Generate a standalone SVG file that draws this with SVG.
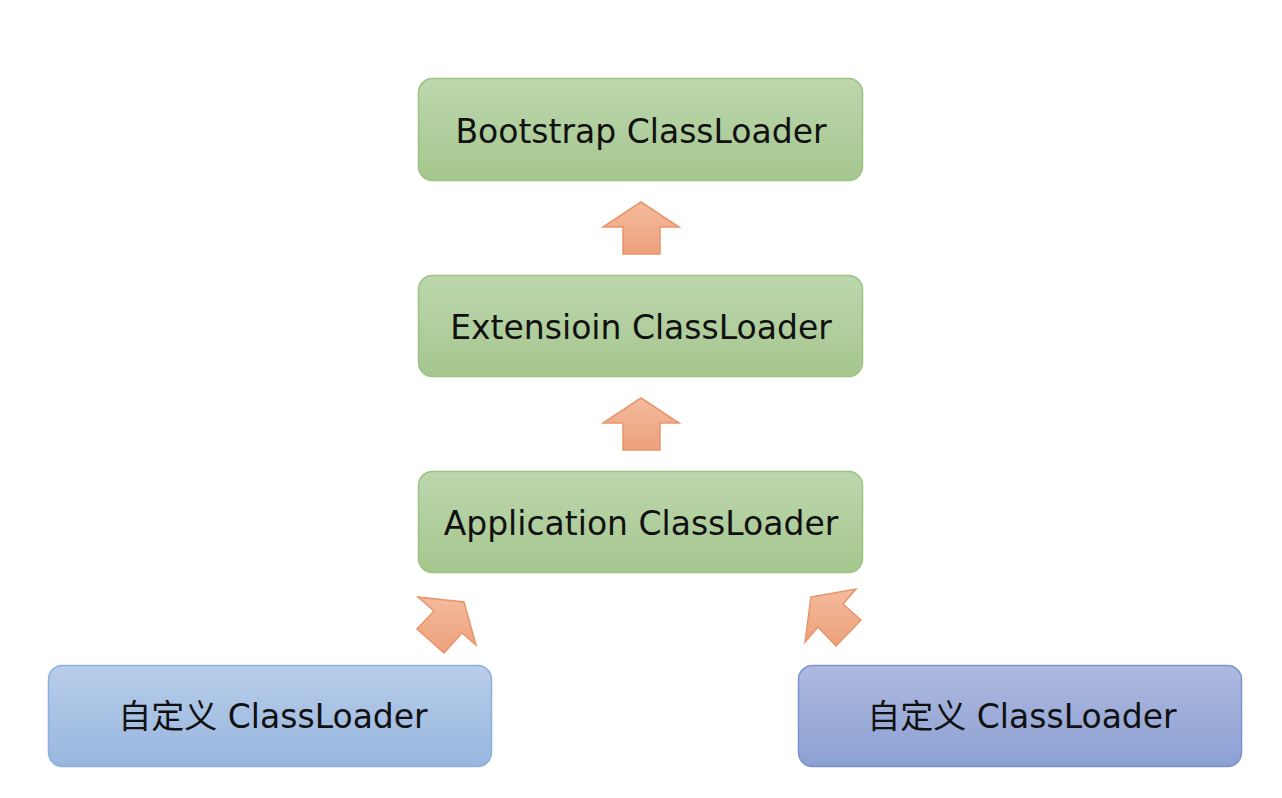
<svg xmlns="http://www.w3.org/2000/svg" width="1282" height="798" viewBox="0 0 1282 798">
  <defs>
    <linearGradient id="gGreen" x1="0" y1="0" x2="0" y2="1">
      <stop offset="0" stop-color="#bdd7ae"/>
      <stop offset="1" stop-color="#a5c68e"/>
    </linearGradient>
    <linearGradient id="gBlueL" x1="0" y1="0" x2="0" y2="1">
      <stop offset="0" stop-color="#b8cde9"/>
      <stop offset="1" stop-color="#98b6df"/>
    </linearGradient>
    <linearGradient id="gBlueR" x1="0" y1="0" x2="0" y2="1">
      <stop offset="0" stop-color="#aeb9de"/>
      <stop offset="1" stop-color="#8da1d4"/>
    </linearGradient>
    <linearGradient id="gArrow" x1="0" y1="0" x2="0" y2="1">
      <stop offset="0" stop-color="#f4bb9c"/>
      <stop offset="1" stop-color="#eda07b"/>
    </linearGradient>
  </defs>
  <style>
    .box { stroke-width: 1.5; }
    .green { fill: url(#gGreen); stroke: #9cc380; }
    .blueL { fill: url(#gBlueL); stroke: #8bb0e0; }
    .blueR { fill: url(#gBlueR); stroke: #7d93cf; }
    .label { font-family: "DejaVu Sans", "Noto Sans CJK SC", sans-serif; font-size: 33px; fill: #111; text-anchor: middle; }
    .arrow { fill: url(#gArrow); stroke: #e8956a; stroke-width: 1.5; stroke-linejoin: miter; }
  </style>
  <rect width="1282" height="798" fill="#ffffff"/>

  <g id="bootstrap">
    <rect class="box green" x="418.5" y="78.5" width="444" height="102" rx="14"/>
    <text class="label" x="641" y="143">Bootstrap ClassLoader</text>
  </g>
  <g id="extension">
    <rect class="box green" x="418.5" y="275.5" width="444" height="101" rx="14"/>
    <text class="label" x="641" y="339">Extensioin ClassLoader</text>
  </g>
  <g id="application">
    <rect class="box green" x="418.5" y="471.5" width="444" height="101" rx="14"/>
    <text class="label" x="641" y="535">Application ClassLoader</text>
  </g>
  <g id="custom-left">
    <rect class="box blueL" x="48.5" y="665.5" width="443" height="101" rx="14"/>
    <text class="label" x="273" y="728">自定义 ClassLoader</text>
  </g>
  <g id="custom-right">
    <rect class="box blueR" x="798.5" y="665.5" width="443" height="101" rx="14"/>
    <text class="label" x="1022" y="728">自定义 ClassLoader</text>
  </g>

  <g id="connectors">
    <polygon class="arrow" points="641,202 679,227 660,227 660,254 623,254 623,227 603,227"/>
    <polygon class="arrow" points="641,398 679,423 660,423 660,450 623,450 623,423 603,423"/>
    <polygon class="arrow" points="418,597 464,602 476,645 462,633 444,653 417,629 434,611"/>
    <polygon class="arrow" points="811,597 856,589 843,604 861,620 836,646 818,627 805,642"/>
  </g>
</svg>
